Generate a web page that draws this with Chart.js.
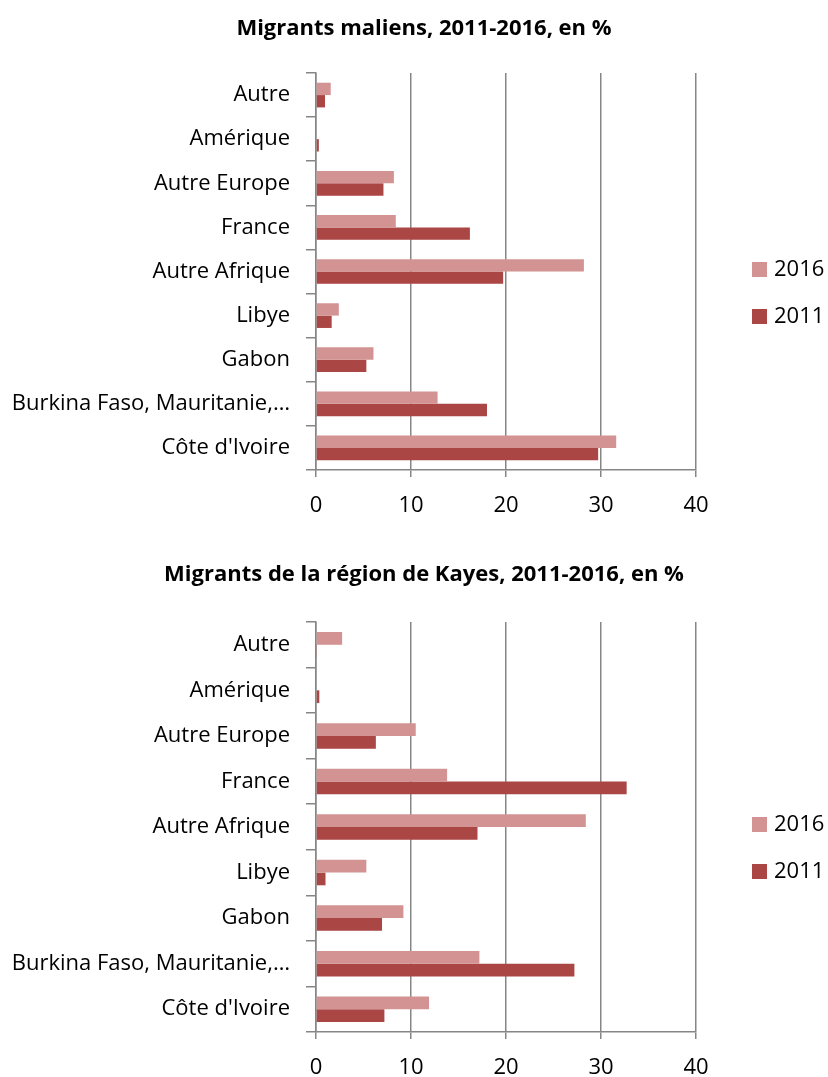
<!DOCTYPE html>
<html>
<head>
<meta charset="utf-8">
<script src="https://cdn.jsdelivr.net/npm/chart.js@4.4.1/dist/chart.umd.min.js"></script>
<style>
  body { margin: 0; background: #fff; }
  #page { position: relative; width: 828px; height: 1077px; font-family: "Open Sans", sans-serif; color: #000; }
  canvas { position: absolute; left: 0; }
  .title { position: absolute; left: 0; width: 848px; text-align: center; font-weight: bold; font-size: 22px; line-height: 30px; white-space: nowrap; }
  .legend { position: absolute; left: 752px; font-size: 22px; }
  .legend div { position: absolute; left: 0; height: 30px; line-height: 30px; white-space: nowrap; }
  .legend span.box { display: inline-block; width: 15px; height: 15px; margin-right: 7px; vertical-align: -1px; }
</style>
</head>
<body>
<div id="page">
  <canvas id="chartMali" width="828" height="540" style="top:0"></canvas>
  <div class="title" style="top:11px;">Migrants maliens, 2011-2016, en %</div>
  <div class="legend" id="legendMali" style="top:0"></div>

  <canvas id="chartKayes" width="828" height="527" style="top:550px"></canvas>
  <div class="title" style="top:557px;">Migrants de la région de Kayes, 2011-2016, en %</div>
  <div class="legend" id="legendKayes" style="top:0"></div>
</div>

<script>
const categories = ['Autre', 'Amérique', 'Autre Europe', 'France', 'Autre Afrique', 'Libye', 'Gabon',
    'Burkina Faso, Mauritanie,…', "Côte d'Ivoire"];
const seriesNames = ['2016', '2011'];
const seriesColors = ['#D39392', '#AA4644'];

// Migrants maliens
const mali2016 = [1.55, 0, 8.2, 8.4, 28.2, 2.4, 6.05, 12.8, 31.6];
const mali2011 = [0.95, 0.3, 7.1, 16.2, 19.7, 1.65, 5.3, 18.0, 29.7];

// Migrants de la region de Kayes
const kayes2016 = [2.75, 0, 10.5, 13.8, 28.4, 5.3, 9.2, 17.2, 11.9];
const kayes2011 = [0.1, 0.35, 6.3, 32.7, 17.0, 1.0, 6.95, 27.2, 7.2];

const xTicks = [0, 10, 20, 30, 40];

const axisGray = '#868686';
const labelFont = { family: 'Open Sans', size: 22 };

function makeChart(canvasId, v2016, v2011, padTop, xHeight) {
    const ctx = document.getElementById(canvasId).getContext('2d');
    return new Chart(ctx, {
        type: 'bar',
        data: {
            labels: categories,
            datasets: [
                { label: seriesNames[0], data: v2016, backgroundColor: seriesColors[0] },
                { label: seriesNames[1], data: v2011, backgroundColor: seriesColors[1] }
            ]
        },
        options: {
            indexAxis: 'y',
            responsive: false,
            animation: false,
            categoryPercentage: 0.56,
            barPercentage: 1,
            layout: { padding: { top: padTop, right: 132, left: 0, bottom: 0 } },
            plugins: {
                legend: { display: false },
                title: { display: false },
                tooltip: { enabled: false }
            },
            scales: {
                x: {
                    min: xTicks[0],
                    max: xTicks[xTicks.length - 1],
                    afterBuildTicks: (scale) => { scale.ticks = xTicks.map(v => ({ value: v })); },
                    afterFit: (scale) => { scale.height = xHeight; },
                    ticks: { color: '#000', font: labelFont, padding: 16 },
                    grid: { color: axisGray, lineWidth: 1.5, tickLength: 7, drawTicks: true },
                    border: { color: axisGray, width: 1.5 }
                },
                y: {
                    afterFit: (scale) => { scale.width = 316; },
                    ticks: { color: '#000', font: labelFont, padding: 16, autoSkip: false },
                    grid: { offset: true, drawOnChartArea: false, color: axisGray, lineWidth: 1.5, tickLength: 10 },
                    border: { color: axisGray, width: 1.5 }
                }
            }
        }
    });
}

function makeLegend(id, centers) {
    const el = document.getElementById(id);
    seriesNames.forEach((name, i) => {
        const row = document.createElement('div');
        row.style.top = (centers[i] - 15) + 'px';
        row.innerHTML = '<span class="box" style="background:' + seriesColors[i] + '"></span>' + name;
        el.appendChild(row);
    });
}

makeChart('chartMali', mali2016, mali2011, 73, 70);
makeChart('chartKayes', kayes2016, kayes2011, 72, 45);

makeLegend('legendMali', [267, 314]);
makeLegend('legendKayes', [822, 869]);
</script>
</body>
</html>
